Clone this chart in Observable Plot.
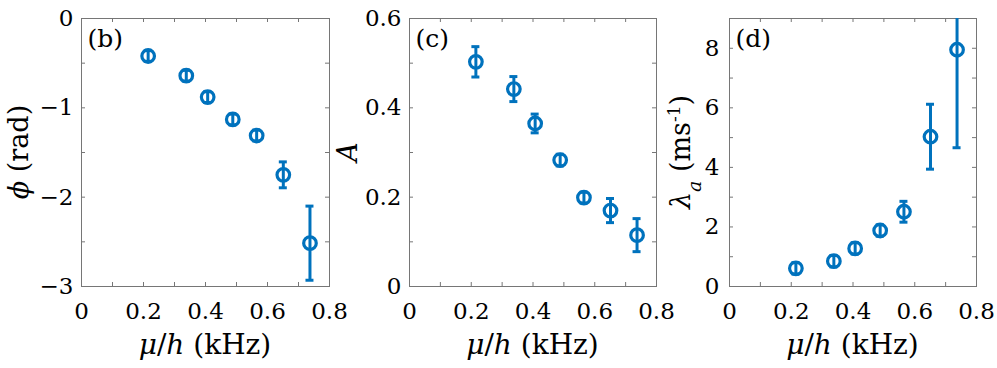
<!DOCTYPE html>
<html>
<head>
<meta charset="utf-8">
<script src="https://cdn.jsdelivr.net/npm/d3@7"></script>
<script src="https://cdn.jsdelivr.net/npm/@observablehq/plot@0.6"></script>
<style>
  html, body { margin: 0; padding: 0; background: #fff; }
  #wrap { position: relative; width: 997px; height: 368px; overflow: hidden; }
  #wrap svg { position: absolute; top: 0; overflow: visible; max-width: none; font-family: 'DejaVu Serif', serif; }
  #wrap svg text { font-family: 'DejaVu Serif', serif; }
</style>
</head>
<body>
<div id="wrap"></div>
<script>
// ---- data ----
const mu = [0.215, 0.338, 0.407, 0.488, 0.565, 0.651, 0.737];          // μ/h (kHz)
const phi = [-0.42, -0.64, -0.88, -1.13, -1.31, -1.75, -2.515];        // φ (rad)
const phiErr = [0.06, 0.06, 0.06, 0.06, 0.06, 0.145, 0.415];
const amp = [0.503, 0.442, 0.365, 0.283, 0.199, 0.170, 0.115];         // A
const ampErr = [0.034, 0.028, 0.021, 0.013, 0.012, 0.027, 0.037];
const lam = [0.61, 0.85, 1.28, 1.88, 2.51, 5.03, 7.95];                // λa (ms-1)
const lamErr = [0.19, 0.19, 0.19, 0.19, 0.35, 1.09, 3.29];

const xLabeled = [0, 0.2, 0.4, 0.6, 0.8];
const xAllTicks = [0, 0.1, 0.2, 0.3, 0.4, 0.5, 0.6, 0.7, 0.8];
const phiLabeled = [0, -1, -2, -3];
const phiAllTicks = [0, -0.5, -1, -1.5, -2, -2.5, -3];
const ampLabeled = [0, 0.2, 0.4, 0.6];
const ampAllTicks = [0, 0.1, 0.2, 0.3, 0.4, 0.5, 0.6];
const lamLabeled = [0, 2, 4, 6, 8];
const lamAllTicks = [0, 1, 2, 3, 4, 5, 6, 7, 8, 9];
const tags = ["(b)", "(c)", "(d)"];

const BLUE = "#0072BD";
const FRAME = "#767676";
const FONT = "DejaVu Serif";
const H = 368, MT = 18, MB = 82;
const PH = H - MT - MB;

const wrap = document.getElementById("wrap");

function panel({left, width, mL, mR, yDomain, yLabeled, yAll, ys, errs, tag, yPad, labelX, labelParts}) {
  const data = mu.map((x, i) => ({x, y: ys[i], lo: ys[i] - errs[i], hi: ys[i] + errs[i]}));
  const PW = width - mL - mR;
  const fmt = d3.format("~g");
  const svg = Plot.plot({
    width, height: H,
    marginLeft: mL, marginRight: mR, marginTop: MT, marginBottom: MB,
    x: {domain: [0, 0.8]},
    y: {domain: yDomain},
    style: {fontFamily: "'DejaVu Serif', serif", fontSize: "23px", color: "#000", background: "transparent", overflow: "visible"},
    marks: [
      Plot.frame({stroke: FRAME, strokeWidth: 1}),
      // inward ticks on all four sides
      Plot.tickX(xAllTicks, {x: d => d, insetTop: PH - 4, stroke: FRAME}),
      Plot.tickX(xAllTicks, {x: d => d, insetBottom: PH - 4, stroke: FRAME}),
      Plot.tickY(yAll, {y: d => d, insetRight: PW - 4, stroke: FRAME}),
      Plot.tickY(yAll, {y: d => d, insetLeft: PW - 4, stroke: FRAME}),
      Plot.axisX(xLabeled, {tickSize: 0, tickPadding: 16, tickFormat: fmt, label: null, fontSize: 23, fontFamily: FONT}),
      Plot.axisY(yLabeled, {tickSize: 0, tickPadding: yPad, tickFormat: fmt, label: null, fontSize: 23, fontFamily: FONT}),
      // error bars
      Plot.ruleX(data, {x: "x", y1: "lo", y2: "hi", stroke: BLUE, strokeWidth: 3, clip: true}),
      Plot.ruleY(data, {y: "lo", x1: "x", x2: "x", insetLeft: -4, insetRight: -4, stroke: BLUE, strokeWidth: 3, clip: true}),
      Plot.ruleY(data, {y: "hi", x1: "x", x2: "x", insetLeft: -4, insetRight: -4, stroke: BLUE, strokeWidth: 3, clip: true}),
      // markers
      Plot.dot(data, {x: "x", y: "y", r: 6.3, stroke: BLUE, strokeWidth: 3.2, fill: "none"}),
      // panel tag
      Plot.text([tag], {frameAnchor: "top-left", text: d => d, dx: 6, dy: 11, textAnchor: "start", lineAnchor: "top", fontSize: 25, fontFamily: FONT, fill: "#000"})
    ]
  });
  svg.style.left = left + "px";
  wrap.appendChild(svg);
  const s = d3.select(svg);
  // x label: μ/h (kHz)
  const xl = s.append("text")
    .attr("x", mL + PW / 2).attr("y", 354)
    .attr("text-anchor", "middle")
    .attr("font-size", 28).attr("fill", "#000");
  xl.append("tspan").attr("font-style", "italic").text("μ");
  xl.append("tspan").text("/");
  xl.append("tspan").attr("font-style", "italic").text("h");
  xl.append("tspan").text(" (kHz)");
  // y label
  const yl = s.append("text")
    .attr("transform", `translate(${labelX},${MT + PH / 2}) rotate(-90)`)
    .attr("text-anchor", "middle")
    .attr("font-size", 27).attr("fill", "#000");
  for (const p of labelParts) {
    const t = yl.append("tspan").text(p.t);
    if (p.i) t.attr("font-style", "italic");
    if (p.sub) t.attr("baseline-shift", "sub").attr("font-size", 19);
    if (p.sup) t.attr("baseline-shift", "super").attr("font-size", 17);
  }
}

panel({left: 0, width: 331, mL: 81, mR: 2, yDomain: [-3, 0], yLabeled: phiLabeled, yAll: phiAllTicks,
  ys: phi, errs: phiErr, tag: tags[0], yPad: 8, labelX: 28,
  labelParts: [{t: "ϕ", i: true}, {t: " (rad)"}]});
panel({left: 331, width: 327, mL: 78, mR: 2, yDomain: [0, 0.6], yLabeled: ampLabeled, yAll: ampAllTicks,
  ys: amp, errs: ampErr, tag: tags[1], yPad: 8, labelX: 26,
  labelParts: [{t: "A", i: true}]});
panel({left: 658, width: 339, mL: 71, mR: 21, yDomain: [0, 9], yLabeled: lamLabeled, yAll: lamAllTicks,
  ys: lam, errs: lamErr, tag: tags[2], yPad: 10, labelX: 32,
  labelParts: [{t: "λ", i: true}, {t: "a", i: true, sub: true}, {t: " (ms"}, {t: "-1", sup: true}, {t: ")"}]});
</script>
</body>
</html>
